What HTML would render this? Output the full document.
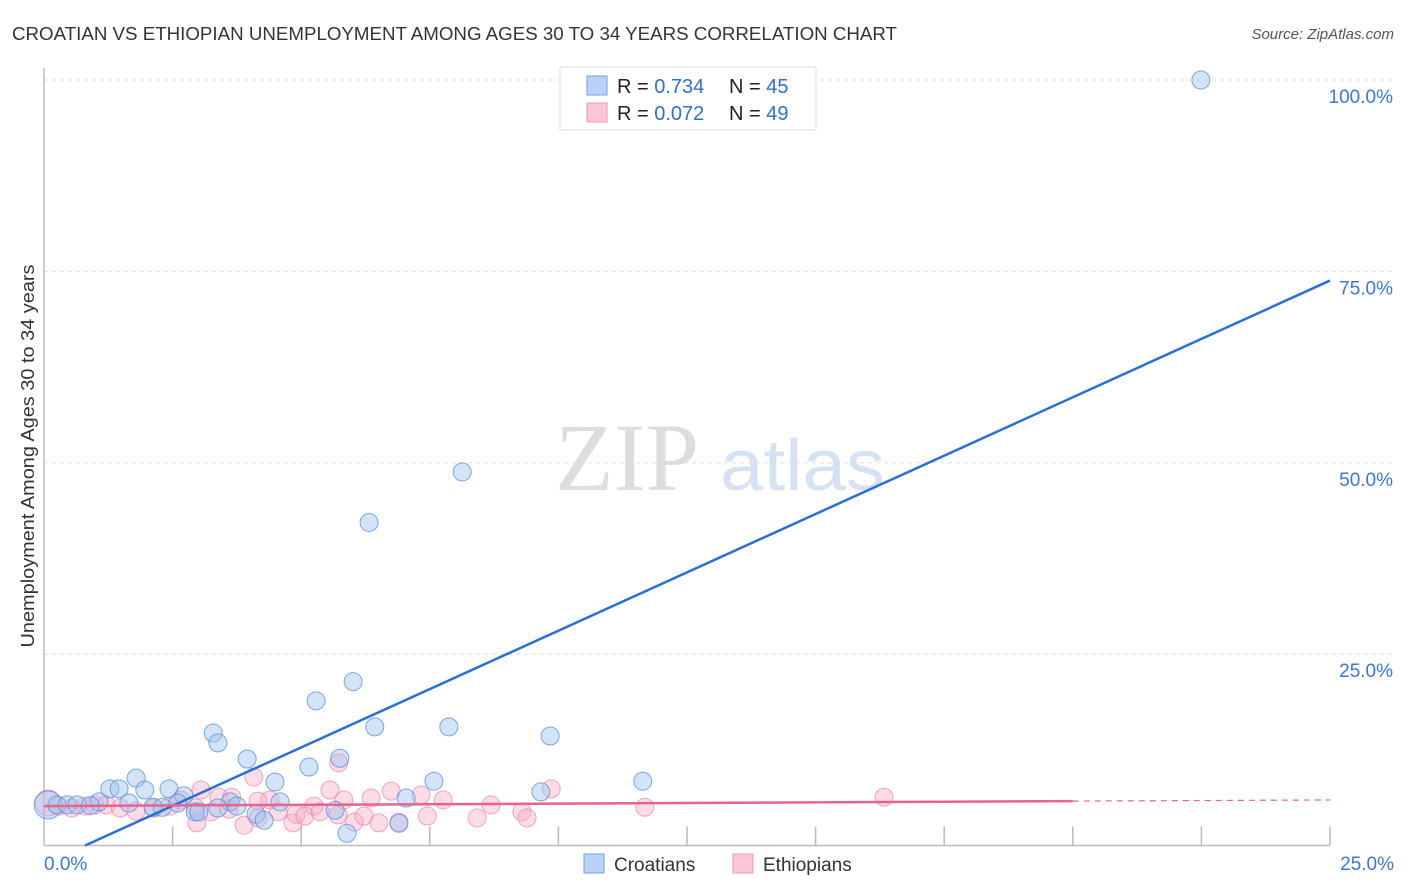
<!DOCTYPE html>
<html><head><meta charset="utf-8">
<style>
body{margin:0;background:#fff;font-family:"Liberation Sans",sans-serif;}
svg{display:block}
</style></head>
<body>
<svg id="chart" width="1406" height="892" xmlns="http://www.w3.org/2000/svg">
<text x="12" y="40" font-size="18" fill="#333" textLength="885" lengthAdjust="spacingAndGlyphs">CROATIAN VS ETHIOPIAN UNEMPLOYMENT AMONG AGES 30 TO 34 YEARS CORRELATION CHART</text>
<text x="1394" y="39" font-size="15" fill="#555" font-style="italic" text-anchor="end">Source: ZipAtlas.com</text>
<text x="0" y="0" transform="translate(34,456) rotate(-90)" font-size="18" fill="#333" text-anchor="middle" textLength="383" lengthAdjust="spacingAndGlyphs">Unemployment Among Ages 30 to 34 years</text>
<g>
<text x="555" y="490" font-size="96" fill="#ddd" font-family="Liberation Serif,serif">ZIP</text>
<text x="720" y="490" font-size="72" fill="#d5e2f4" textLength="165" lengthAdjust="spacingAndGlyphs">atlas</text>
</g>
<g id="grid"></g>
<g id="axes"></g>
<g id="pts"></g>
<g id="lines"></g>
<g>
<rect x="560" y="67" width="256" height="63" fill="#fff" stroke="#ddd"/>
<rect x="587" y="76" width="20" height="19" fill="#b8d3f5" stroke="#6fa1e3"/>
<rect x="587" y="103" width="20" height="19" fill="#fbc6d5" stroke="#ef9ab5"/>
<text x="617" y="93" font-size="20" fill="#222">R = <tspan fill="#2f6fd0">0.734</tspan></text>
<text x="729" y="93" font-size="20" fill="#222">N = <tspan fill="#2f6fd0">45</tspan></text>
<text x="617" y="120" font-size="20" fill="#222">R = <tspan fill="#2f6fd0">0.072</tspan></text>
<text x="729" y="120" font-size="20" fill="#222">N = <tspan fill="#2f6fd0">49</tspan></text>
</g>
<g>
<rect x="584" y="854" width="20" height="19" fill="#b8d3f5" stroke="#6fa1e3"/>
<text x="614" y="871" font-size="19" fill="#333">Croatians</text>
<rect x="733" y="854" width="20" height="19" fill="#fbc6d5" stroke="#ef9ab5"/>
<text x="763" y="871" font-size="19" fill="#333">Ethiopians</text>
</g>
</svg>
<script>
const yTicks=[25,50,75,100];
const yTickLabels=["25.0%","50.0%","75.0%","100.0%"];
const xLabels=["0.0%","25.0%"];
const croX=[22.49,8.13,6.32,6.01,5.29,6.43,7.87,9.84,3.29,3.38,3.95,5.75,5.15,4.49,7.58,11.64,1.79,1.28,1.46,1.96,2.43,2.72,4.59,7.04,9.66,5.66,0.08,0.25,0.45,0.64,1.07,1.65,2.12,2.6,3.62,3.75,2.94,3.01,4.12,4.28,6.9,5.89,3.38,0.9,2.3];
const croY=[100,48.8,42.2,21.4,18.9,15.5,15.5,14.3,14.7,13.4,11.3,11.4,10.25,8.3,8.4,8.4,8.8,7.4,7.4,7.25,7.4,6.5,5.7,6.2,7.0,4.6,5.3,5.3,5.3,5.3,5.7,5.55,5.0,5.55,5.7,5.15,4.4,4.4,4.1,3.3,2.9,1.6,4.9,5.2,5.0];
const ethX=[0.08,0.29,0.54,0.8,0.99,1.21,1.48,1.79,2.14,2.45,2.66,2.95,3.05,3.25,3.4,3.6,3.89,4.08,4.16,4.39,4.55,4.84,4.9,5.07,5.25,5.37,5.56,5.73,5.72,5.83,6.03,6.22,6.36,6.51,6.9,6.75,7.33,7.45,7.76,8.42,8.69,9.29,9.39,9.86,11.68,16.33,2.97,3.65,4.16];
const ethY=[5.55,5.15,4.9,5.15,5.3,5.3,4.9,4.5,4.9,5.15,5.95,4.9,7.25,4.4,6.3,4.75,2.65,8.95,5.8,5.95,4.4,2.95,4.1,3.85,5.15,4.4,7.25,10.8,4.0,5.95,3.05,3.85,6.2,2.95,3.05,7.1,6.6,3.85,5.95,3.6,5.3,4.4,3.6,7.4,5.0,6.3,2.95,6.3,3.6];
const croLine=[0.8,0,25,73.8];
const ethLine=[0,5.15,20,5.8,25,5.95];
const X0=44,X1=1330,Y0=845.5,Y100=80;
const sx=v=>X0+(X1-X0)*v/25;
const sy=v=>Y0-(Y0-Y100)*v/100;
const NS="http://www.w3.org/2000/svg";
function mk(tag,attrs,parent){const e=document.createElementNS(NS,tag);for(const k in attrs)e.setAttribute(k,attrs[k]);document.getElementById(parent).appendChild(e);return e;}
yTicks.forEach((t,i)=>{
 const g=mk("line",{x1:X0,x2:1394,y1:sy(t),y2:sy(t),stroke:"#ddd","stroke-dasharray":"4,4"},"grid");
 
 
 const l=mk("text",{x:1393,y:sy(t)+23,"font-size":19,fill:"#3a78d8","text-anchor":"end"},"axes");
 l.textContent=yTickLabels[i];
 
 
});
const ax=mk("line",{x1:X0,x2:X0,y1:68,y2:Y0,stroke:"#bbb","stroke-width":1.5},"axes");


const bx=mk("line",{x1:X0,x2:X1,y1:Y0,y2:Y0,stroke:"#bbb","stroke-width":1.5},"axes");


for(let i=1;i<=10;i++){
 const t=mk("line",{x1:sx(i*2.5),x2:sx(i*2.5),y1:Y0-19,y2:Y0,stroke:"#bbb","stroke-width":1.5},"axes");
 
 
}
const xl0=mk("text",{x:44,y:870,"font-size":19,fill:"#3a78d8"},"axes");xl0.textContent=xLabels[0];


const xl1=mk("text",{x:1394,y:870,"font-size":19,fill:"#3a78d8","text-anchor":"end"},"axes");xl1.textContent=xLabels[1];


ethX.forEach((v,i)=>{
 const c=mk("circle",{cx:sx(v),cy:sy(ethY[i]),r:i==0?13:9,fill:"rgba(248,170,195,0.4)",stroke:"rgba(236,130,165,0.7)","stroke-width":1},"pts");
 
 
});
croX.forEach((v,i)=>{
 const c=mk("circle",{cx:sx(v),cy:sy(croY[i]),r:i==26?14:9,fill:"rgba(160,195,240,0.45)",stroke:"rgba(80,140,220,0.75)","stroke-width":1},"pts");
 
 
});
const cl=mk("line",{x1:sx(croLine[0]),y1:sy(croLine[1]),x2:sx(croLine[2]),y2:sy(croLine[3]),stroke:"#2a6fd6","stroke-width":2.5},"lines");


const el=mk("line",{x1:sx(ethLine[0]),y1:sy(ethLine[1]),x2:sx(ethLine[2]),y2:sy(ethLine[3]),stroke:"#e8638f","stroke-width":2.5},"lines");


const ed=mk("line",{x1:sx(ethLine[2]),y1:sy(ethLine[3]),x2:sx(ethLine[4]),y2:sy(ethLine[5]),stroke:"#e8638f","stroke-width":1.2,"stroke-dasharray":"6,5"},"lines");


</script>
</body></html>
